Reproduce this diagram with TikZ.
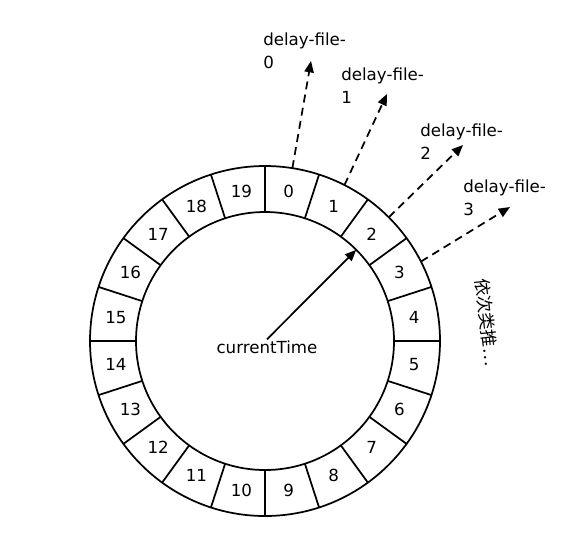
\documentclass[tikz,border=0pt]{standalone}
\usepackage{fontspec}
\setmainfont{DejaVu Sans}
\newfontfamily\cjk{Noto Sans CJK SC}
\usetikzlibrary{arrows.meta,calc}

\tikzset{
  ring/.style={line width=1.3pt},
  slotnum/.style={inner sep=0.75pt, font=\fontsize{12.5}{15}\selectfont},
  filelabel/.style={anchor=north west, inner sep=0pt, align=left, font=\fontsize{12.5}{17}\selectfont},
  filearrow/.style={line width=1.3pt, dash pattern=on 6pt off 4pt, -{Triangle[length=8.5pt,width=7pt]}},
  timearrow/.style={line width=1.3pt, -{Triangle[length=8.5pt,width=7pt]}},
}

\begin{document}
\begin{tikzpicture}[x=0.75pt,y=0.75pt,yscale=-1,xscale=1]
\useasboundingbox (0,0) rectangle (584,544);

%Shape: Circle (wheel)
\coordinate (c) at (265,341);
\draw [ring] (c) circle [radius=175];
\draw [ring] (c) circle [radius=129];
%Straight Lines (slot borders)
\foreach \i in {0,...,19}
  \draw [ring] ($(c)+(18*\i-90:129)$) -- ($(c)+(18*\i-90:175)$);
% Text Node (slot numbers)
\foreach \i in {0,...,19}
  \node [slotnum] (s\i) at ($(c)+(18*\i-81:151)$) {\i};

% Text Node
\node [slotnum] (ct) at (267,347) {currentTime};
\coordinate (hit) at ($(c)+(-45:129)$);
%Straight Lines
\draw [timearrow] (ct.north) -- (hit);

%Straight Lines (to delay files)
\foreach \i/\x/\y in {0/311/61, 1/387/94, 2/463/145, 3/510/207} {
  \coordinate (o\i) at ($(c)+(18*\i-81:175)$);
  \coordinate (t\i) at (\x,\y);
  \draw [filearrow] (o\i) -- (t\i);
}

% Text Node
\node [filelabel] (f0) at (263,33) {delay-file-\\0};
% Text Node
\node [filelabel] (f1) at (341,68) {delay-file-\\1};
% Text Node
\node [filelabel] (f2) at (420,124) {delay-file-\\2};
% Text Node
\node [filelabel] (f3) at (463,180) {delay-file-\\3};

% Text Node
\node [rotate=-83.5, inner sep=0pt, font=\cjk\fontsize{13}{15}\selectfont] (etc) at (487,322) {依次类推…};
\end{tikzpicture}
\end{document}
